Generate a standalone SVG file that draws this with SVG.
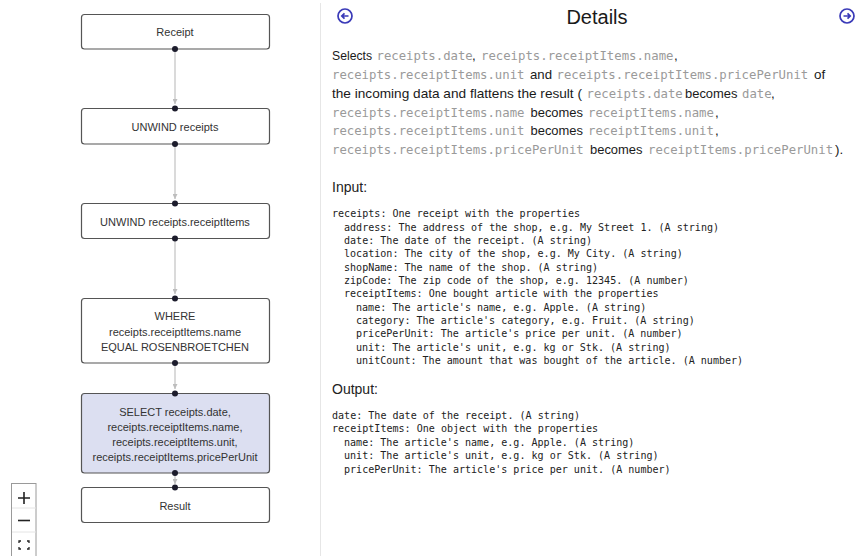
<svg xmlns="http://www.w3.org/2000/svg" width="865" height="556" viewBox="0 0 865 556">
  <style>
    .node rect { fill: #ffffff; stroke: #555555; stroke-width: 1.2; }
    .node.active rect { fill: #dcdff1; }
    .node text { font-family: "Liberation Sans", Arial, sans-serif; font-size: 11px; fill: #333333; text-anchor: middle; }
    .port { fill: #1c1c2c; }
    .edge { stroke: #c6c6c6; stroke-width: 1.3; fill: none; marker-end: url(#arrow); }
    .sans { font-family: "Liberation Sans", Arial, sans-serif; font-size: 13.4px; fill: #1a1a1a; }
    .code { font-family: "DejaVu Sans Mono", "Liberation Mono", monospace; font-size: 12.3px; fill: #9a9a9a; }
    .head { font-family: "Liberation Sans", Arial, sans-serif; font-size: 14px; fill: #222222; }
    .pre { font-family: "DejaVu Sans Mono", "Liberation Mono", monospace; font-size: 10.05px; fill: #222222; }
    .nav { fill: none; stroke: #3a3ab8; stroke-width: 1.7; }
  </style>
  <defs>
    <marker id="arrow" viewBox="0 0 10 10" refX="10" refY="5" markerWidth="5" markerHeight="5" orient="auto" markerUnits="userSpaceOnUse">
      <path d="M0,0 L10,5 L0,10 z" fill="#bdbdbd"/>
    </marker>
  </defs>

  <rect x="0" y="0" width="865" height="556" fill="#ffffff"/>

  <!-- panel divider -->
  <line x1="320.5" y1="3" x2="320.5" y2="556" stroke="#e6e6e6" stroke-width="1"/>

  <!-- connectors -->
  <g id="connectors">
    <line class="edge" x1="175" y1="49" x2="175" y2="104"/>
    <line class="edge" x1="175" y1="144" x2="175" y2="199"/>
    <line class="edge" x1="175" y1="238" x2="175" y2="294"/>
    <line class="edge" x1="175" y1="363" x2="175" y2="389"/>
    <line class="edge" x1="175" y1="473" x2="175" y2="484"/>
  </g>

  <!-- pipeline nodes -->
  <g id="node-receipt" class="node">
    <rect x="81.5" y="14.5" width="188" height="34.5" rx="3"/>
    <text x="175" y="36">Receipt</text>
    <circle class="port" cx="175" cy="49" r="3"/>
  </g>
  <g id="node-unwind-receipts" class="node">
    <rect x="81.5" y="108.5" width="188" height="35.5" rx="3"/>
    <text x="175" y="131">UNWIND receipts</text>
    <circle class="port" cx="175" cy="108.5" r="3"/>
    <circle class="port" cx="175" cy="144" r="3"/>
  </g>
  <g id="node-unwind-items" class="node">
    <rect x="81.5" y="203.5" width="188" height="35" rx="3"/>
    <text x="175" y="226">UNWIND receipts.receiptItems</text>
    <circle class="port" cx="175" cy="203.5" r="3"/>
    <circle class="port" cx="175" cy="238.5" r="3"/>
  </g>
  <g id="node-where" class="node">
    <rect x="81.5" y="298.5" width="188" height="64.5" rx="3"/>
    <text x="175" y="320">WHERE</text>
    <text x="175" y="335.5">receipts.receiptItems.name</text>
    <text x="175" y="350.5">EQUAL ROSENBROETCHEN</text>
    <circle class="port" cx="175" cy="298.5" r="3"/>
    <circle class="port" cx="175" cy="363" r="3"/>
  </g>
  <g id="node-select" class="node active">
    <rect x="81.5" y="393.5" width="188" height="79.5" rx="3"/>
    <text x="175" y="415.5">SELECT receipts.date,</text>
    <text x="175" y="430.5">receipts.receiptItems.name,</text>
    <text x="175" y="445.5">receipts.receiptItems.unit,</text>
    <text x="175" y="460.5">receipts.receiptItems.pricePerUnit</text>
    <circle class="port" cx="175" cy="393.5" r="3"/>
    <circle class="port" cx="175" cy="473" r="3"/>
  </g>
  <g id="node-result" class="node">
    <rect x="81.5" y="487.5" width="188" height="35" rx="3"/>
    <text x="175" y="510">Result</text>
    <circle class="port" cx="175" cy="487.5" r="3"/>
  </g>

  <!-- zoom controls -->
  <g id="zoom-controls">
    <rect x="11.5" y="483.5" width="24.5" height="80" fill="#ffffff" stroke="#9a9a9a" stroke-width="1"/>
    <line x1="12" y1="508" x2="36" y2="508" stroke="#e4e4e4"/>
    <line x1="12" y1="532" x2="36" y2="532" stroke="#e4e4e4"/>
    <path d="M18,498 H30 M24,492 V504" stroke="#222" stroke-width="1.6"/>
    <path d="M18,520.5 H30" stroke="#222" stroke-width="1.6"/>
    <path d="M19,543 V541 H21 M27,541 H29 V543 M29,547 V549 H27 M21,549 H19 V547" stroke="#222" stroke-width="1.3" fill="none"/>
  </g>

  <!-- details header -->
  <g id="details-header">
    <circle class="nav" cx="345" cy="16" r="7"/>
    <path d="M348.5,16 H341.8 M344.5,13.3 L341.8,16 L344.5,18.7" class="nav" stroke-width="1.6"/>
    <text x="597" y="23.5" font-family="Liberation Sans, Arial, sans-serif" font-size="20" fill="#1a1a1a" text-anchor="middle">Details</text>
    <circle class="nav" cx="847" cy="16" r="7"/>
    <path d="M843.5,16 H850.2 M847.5,13.3 L850.2,16 L847.5,18.7" class="nav" stroke-width="1.6"/>
  </g>

  <!-- description -->
  <g id="description">
    <text class="sans" x="332" y="60" textLength="40" lengthAdjust="spacingAndGlyphs">Selects</text>
    <text class="code" x="376.5" y="60">receipts.date</text>
    <text class="sans" x="472" y="60">,</text>
    <text class="code" x="481" y="60">receipts.receiptItems.name</text>
    <text class="sans" x="674" y="60">,</text>

    <text class="code" x="332" y="79">receipts.receiptItems.unit</text>
    <text class="sans" x="530" y="79" textLength="22" lengthAdjust="spacingAndGlyphs">and</text>
    <text class="code" x="556.5" y="79">receipts.receiptItems.pricePerUnit</text>
    <text class="sans" x="814" y="79">of</text>

    <text class="sans" x="332" y="97.5" textLength="250" lengthAdjust="spacingAndGlyphs">the incoming data and flattens the result (</text>
    <text class="code" x="586.5" y="97.5">receipts.date</text>
    <text class="sans" x="685" y="97.5" textLength="52.5" lengthAdjust="spacingAndGlyphs">becomes</text>
    <text class="code" x="742" y="97.5">date</text>
    <text class="sans" x="771" y="97.5">,</text>

    <text class="code" x="332" y="116.5">receipts.receiptItems.name</text>
    <text class="sans" x="530.5" y="116.5" textLength="52.5" lengthAdjust="spacingAndGlyphs">becomes</text>
    <text class="code" x="588" y="116.5">receiptItems.name</text>
    <text class="sans" x="715" y="116.5">,</text>

    <text class="code" x="332" y="135">receipts.receiptItems.unit</text>
    <text class="sans" x="530.5" y="135" textLength="52.5" lengthAdjust="spacingAndGlyphs">becomes</text>
    <text class="code" x="588" y="135">receiptItems.unit</text>
    <text class="sans" x="715" y="135">,</text>

    <text class="code" x="332" y="154">receipts.receiptItems.pricePerUnit</text>
    <text class="sans" x="590" y="154" textLength="52.5" lengthAdjust="spacingAndGlyphs">becomes</text>
    <text class="code" x="648" y="154">receiptItems.pricePerUnit</text>
    <text class="sans" x="835" y="154">).</text>
  </g>

  <!-- input schema -->
  <g id="input">
    <text class="head" x="332" y="192">Input:</text>
    <text class="pre" x="332" y="217">receipts: One receipt with the properties</text>
    <text class="pre" x="344" y="230.5">address: The address of the shop, e.g. My Street 1. (A string)</text>
    <text class="pre" x="344" y="244">date: The date of the receipt. (A string)</text>
    <text class="pre" x="344" y="257.3">location: The city of the shop, e.g. My City. (A string)</text>
    <text class="pre" x="344" y="270.7">shopName: The name of the shop. (A string)</text>
    <text class="pre" x="344" y="284">zipCode: The zip code of the shop, e.g. 12345. (A number)</text>
    <text class="pre" x="344" y="297.3">receiptItems: One bought article with the properties</text>
    <text class="pre" x="356" y="310.7">name: The article's name, e.g. Apple. (A string)</text>
    <text class="pre" x="356" y="324">category: The article's category, e.g. Fruit. (A string)</text>
    <text class="pre" x="356" y="337.3">pricePerUnit: The article's price per unit. (A number)</text>
    <text class="pre" x="356" y="350.7">unit: The article's unit, e.g. kg or Stk. (A string)</text>
    <text class="pre" x="356" y="364">unitCount: The amount that was bought of the article. (A number)</text>
  </g>

  <!-- output schema -->
  <g id="output">
    <text class="head" x="332" y="393.5">Output:</text>
    <text class="pre" x="332" y="418.5">date: The date of the receipt. (A string)</text>
    <text class="pre" x="332" y="432">receiptItems: One object with the properties</text>
    <text class="pre" x="344" y="445.5">name: The article's name, e.g. Apple. (A string)</text>
    <text class="pre" x="344" y="459">unit: The article's unit, e.g. kg or Stk. (A string)</text>
    <text class="pre" x="344" y="472.5">pricePerUnit: The article's price per unit. (A number)</text>
  </g>
</svg>
